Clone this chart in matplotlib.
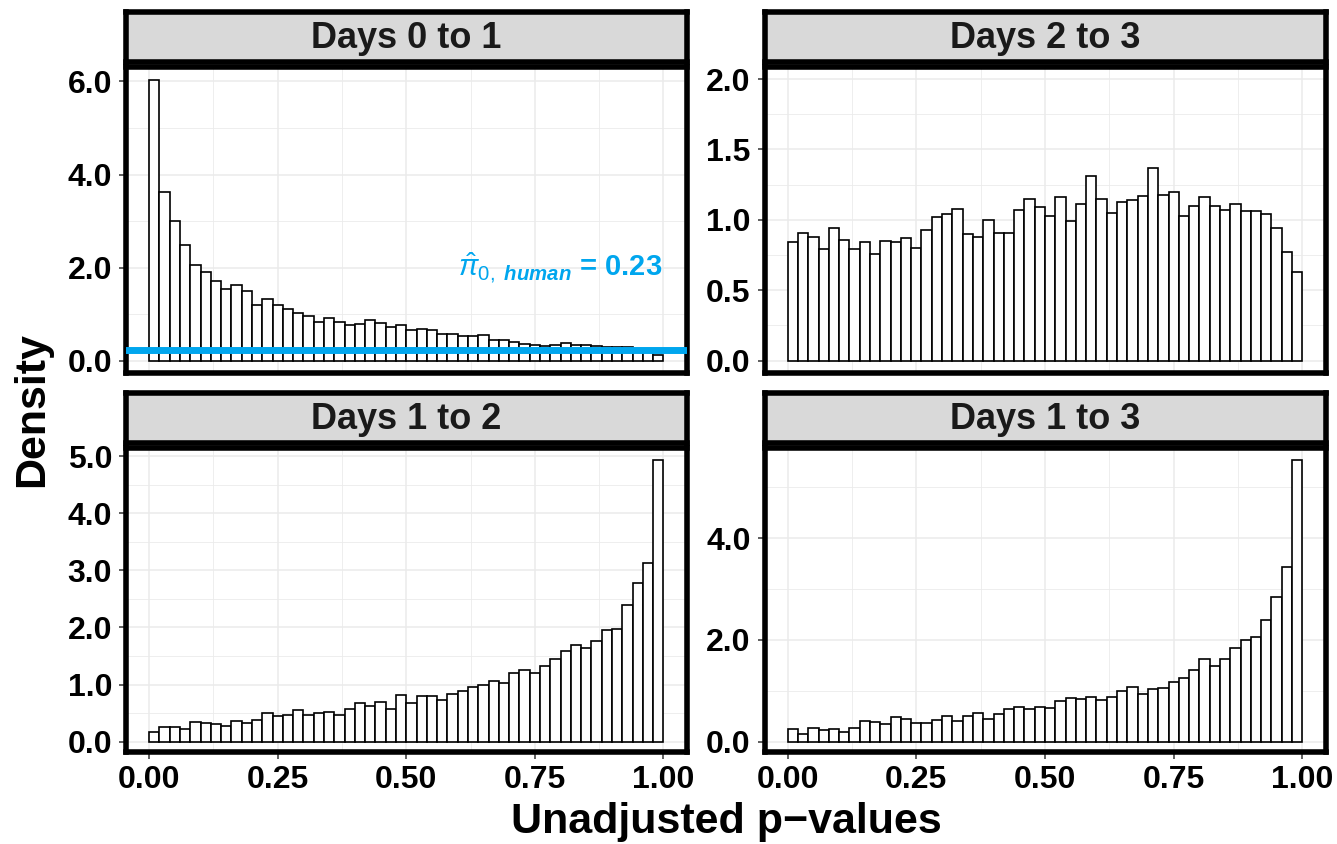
import numpy as np
import matplotlib
matplotlib.use("Agg")
import matplotlib.pyplot as plt
from matplotlib.ticker import MultipleLocator, FixedLocator

plt.rcParams['font.family'] = ['Liberation Sans', 'DejaVu Sans']
plt.rcParams['mathtext.fontset'] = 'custom'
plt.rcParams['mathtext.rm'] = 'Liberation Sans'
plt.rcParams['mathtext.it'] = 'Liberation Sans:italic'
plt.rcParams['mathtext.bf'] = 'Liberation Sans:bold'
plt.rcParams['mathtext.bfit'] = 'Liberation Sans:bold:italic'

# histogram densities, 50 bins of width 0.02 on [0, 1]
days_0_1 = [6.04, 3.62, 3.01, 2.50, 2.07, 1.92, 1.72, 1.54, 1.63, 1.50,
            1.20, 1.34, 1.21, 1.12, 1.04, 0.96, 0.84, 0.92, 0.84, 0.77,
            0.79, 0.89, 0.82, 0.72, 0.77, 0.66, 0.69, 0.67, 0.57, 0.59,
            0.53, 0.54, 0.56, 0.46, 0.44, 0.40, 0.37, 0.34, 0.33, 0.35,
            0.39, 0.34, 0.34, 0.32, 0.30, 0.30, 0.30, 0.26, 0.23, 0.12]
days_2_3 = [0.84, 0.91, 0.88, 0.79, 0.94, 0.86, 0.79, 0.84, 0.76, 0.85,
            0.84, 0.87, 0.80, 0.93, 1.02, 1.04, 1.08, 0.90, 0.88, 1.00,
            0.91, 0.91, 1.07, 1.15, 1.09, 1.03, 1.16, 0.99, 1.11, 1.31,
            1.15, 1.05, 1.13, 1.14, 1.17, 1.37, 1.18, 1.20, 1.03, 1.10,
            1.16, 1.10, 1.07, 1.11, 1.06, 1.06, 1.04, 0.94, 0.77, 0.63]
days_1_2 = [0.17, 0.25, 0.25, 0.23, 0.34, 0.33, 0.31, 0.27, 0.37, 0.33,
            0.38, 0.50, 0.45, 0.46, 0.55, 0.47, 0.51, 0.52, 0.46, 0.57,
            0.67, 0.63, 0.69, 0.58, 0.81, 0.68, 0.80, 0.80, 0.73, 0.83,
            0.89, 0.96, 0.99, 1.07, 1.03, 1.20, 1.26, 1.20, 1.33, 1.44,
            1.58, 1.70, 1.64, 1.76, 1.95, 1.98, 2.39, 2.77, 3.12, 4.93]
days_1_3 = [0.25, 0.15, 0.27, 0.24, 0.26, 0.19, 0.28, 0.41, 0.39, 0.35,
            0.48, 0.44, 0.37, 0.36, 0.43, 0.50, 0.41, 0.50, 0.57, 0.45,
            0.55, 0.65, 0.68, 0.64, 0.69, 0.67, 0.80, 0.87, 0.84, 0.88,
            0.83, 0.88, 1.00, 1.08, 0.93, 1.03, 1.05, 1.18, 1.25, 1.41,
            1.63, 1.48, 1.63, 1.84, 1.99, 2.05, 2.39, 2.85, 3.43, 5.54]

pi0_human = 0.23
x_ticks = [0.0, 0.25, 0.5, 0.75, 1.0]
x_labels = ["0.00", "0.25", "0.50", "0.75", "1.00"]

W, H = 1337, 844
fig = plt.figure(figsize=(W / 100, H / 100), dpi=100)


def px(l, t, r, b):
    return [l / W, 1 - b / H, (r - l) / W, (b - t) / H]


panels = [
    ("Days 0 to 1", days_0_1, (126, 686.5), (12, 62, 67, 372.5), (-0.247, 6.31), 2.0, False),
    ("Days 2 to 3", days_2_3, (764.5, 1325.5), (12, 62, 67, 372.5), (-0.084, 2.086), 0.5, False),
    ("Days 1 to 2", days_1_2, (126, 686.5), (393, 443, 448, 751.5), (-0.17, 5.14), 1.0, True),
    ("Days 1 to 3", days_1_3, (764.5, 1325.5), (393, 443, 448, 751.5), (-0.19, 5.77), 2.0, True),
]

border = 4.0
edges = np.linspace(0, 1, 51)
axes = []
for title, vals, (l, r), (st, sb, pt, pb), ylim, ystep, bottom in panels:
    ax = fig.add_axes(px(l, pt, r, pb))
    ax.bar(edges[:-1], vals, width=0.02, align='edge', facecolor='white',
           edgecolor='black', linewidth=1.2, zorder=2)
    ax.set_xlim(-0.045, 1.045)
    ax.set_ylim(*ylim)
    ax.xaxis.set_major_locator(FixedLocator(x_ticks))
    ax.xaxis.set_minor_locator(FixedLocator([0.125, 0.375, 0.625, 0.875]))
    ax.yaxis.set_major_locator(MultipleLocator(ystep))
    ax.yaxis.set_minor_locator(MultipleLocator(ystep / 2))
    ax.yaxis.set_major_formatter(lambda v, p: f"{v:.1f}")
    ax.grid(which='major', color='#EBEBEB', linewidth=1.1)
    ax.grid(which='minor', color='#EBEBEB', linewidth=0.6)
    ax.set_axisbelow(True)
    for s in ax.spines.values():
        s.set_linewidth(border)
        s.set_color('black')
        s.set_capstyle('projecting')
    ax.tick_params(axis='both', which='major', length=5, width=1.1, color='#333333',
                   labelsize=23, pad=5, labelcolor='black')
    ax.tick_params(axis='both', which='minor', length=0)
    for lab in ax.get_yticklabels():
        lab.set_fontweight('bold')
    if bottom:
        ax.set_xticklabels(x_labels, fontweight='bold')
    else:
        ax.tick_params(axis='x', which='major', length=0, labelbottom=False)
    axes.append(ax)

    sax = fig.add_axes(px(l, st, r, sb))
    sax.set_facecolor('#D9D9D9')
    sax.set_xticks([])
    sax.set_yticks([])
    for s in sax.spines.values():
        s.set_linewidth(border)
        s.set_color('black')
        s.set_capstyle('projecting')
    sax.text(0.5, 0.47, title, ha='center', va='center', fontsize=26,
             fontweight='bold', color='#1A1A1A', transform=sax.transAxes)

ax0 = axes[0]
ax0.axhline(pi0_human, color='#00A6EE', linewidth=5, zorder=3)
ax0.text(0.8, 2.0, r"$\hat{\pi}_{0,\ \mathbfit{human}}$" + f" = {pi0_human:.2f}",
         ha='center', va='center', fontsize=21, fontweight='bold', color='#00A6EE', zorder=4)

fig.text(32 / W, 1 - 410 / H, "Density", rotation=90, ha='center', va='center',
         fontsize=31, fontweight='bold')
fig.text(726 / W, 1 - 822 / H, "Unadjusted p\u2212values", ha='center', va='center',
         fontsize=31, fontweight='bold')

fig.savefig("out.png", dpi=100)
